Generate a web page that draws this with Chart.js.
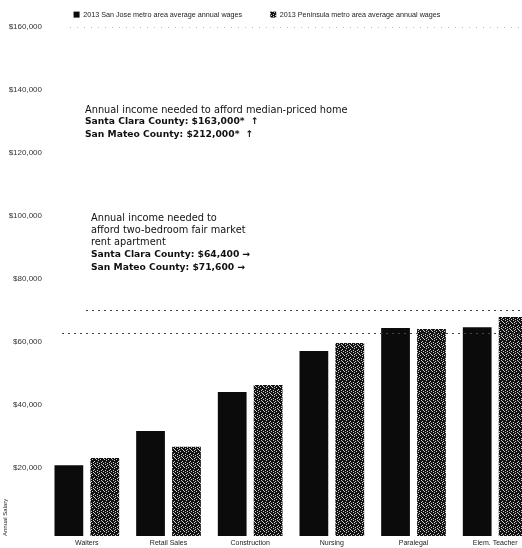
<!DOCTYPE html>
<html>
<head>
<meta charset="utf-8">
<script src="https://cdn.jsdelivr.net/npm/chart.js@4.4.0/dist/chart.umd.min.js"></script>
<style>
    html, body { margin: 0; padding: 0; background: #fff; overflow: hidden; }
    #wrap { width: 540px; height: 548px; }
</style>
</head>
<body>
<div id="wrap"><canvas id="barchart" width="540" height="548"></canvas></div>
<script>
const occupations = ['Waiters', 'Retail Sales', 'Construction', 'Nursing', 'Paralegal', 'Elem. Teacher'];
const sanJoseWages = [22500, 33300, 45700, 58700, 66000, 66300];
const peninsulaWages = [24800, 28300, 47900, 61300, 65700, 69500];
const seriesNames = [
    '2013 San Jose metro area average annual wages',
    '2013 Peninsula metro area average annual wages'
];
const yTicks = [20000, 40000, 60000, 80000, 100000, 120000, 140000, 160000];
const rentLines = [64400, 71600];

const homeNote = 'Annual income needed to afford median-priced home';
const homeCounties = ['Santa Clara County: $163,000*', 'San Mateo County: $212,000*'];
const rentNote = ['Annual income needed to', 'afford two-bedroom fair market', 'rent apartment'];
const rentCounties = ['Santa Clara County: $64,400', 'San Mateo County: $71,600'];

const FONT = "'Liberation Sans', Arial, sans-serif";
const NOTE_FONT = "'DejaVu Sans', Verdana, sans-serif";

function stipple() {
    const c = document.createElement('canvas');
    c.width = 8;
    c.height = 8;
    const g = c.getContext('2d');
    g.fillStyle = '#121212';
    g.fillRect(0, 0, 8, 8);
    g.fillStyle = '#cfcfcf';
    [[1, 0], [5, 0], [3, 1], [7, 2], [0, 3], [4, 3], [2, 4], [6, 5],
     [1, 6], [5, 6], [3, 7], [7, 7], [6, 1], [2, 2]].forEach(function(p) {
        g.fillRect(p[0], p[1], 1, 1);
    });
    return g.createPattern(c, 'repeat');
}

// legend box gets a fixed height so the plot top lands where the scan has it
const legendBox = {
    id: 'legendBox',
    beforeInit(chart) {
        const fit = chart.legend.fit;
        chart.legend.fit = function() {
            fit.bind(chart.legend)();
            this.height = 49;
        };
    },
    afterLayout(chart) {
        chart.legend.left -= 12;
        chart.legend.right -= 12;
    }
};

const notes = {
    id: 'notes',
    afterDraw(chart) {
        const ctx = chart.ctx;
        const area = chart.chartArea;
        const y = chart.scales.y;
        ctx.save();

        // separator under legend
        ctx.strokeStyle = '#bbb';
        ctx.lineWidth = 1;
        ctx.setLineDash([1, 6]);
        ctx.beginPath();
        ctx.moveTo(70, 27.5);
        ctx.lineTo(area.right, 27.5);
        ctx.stroke();

        // rent threshold lines
        ctx.strokeStyle = '#444';
        ctx.setLineDash([2, 4]);
        rentLines.forEach(function(v, i) {
            const py = Math.round(y.getPixelForValue(v)) + 0.5;
            ctx.beginPath();
            ctx.moveTo(area.left + (i === 0 ? 16 : 40), py);
            ctx.lineTo(area.right, py);
            ctx.stroke();
        });
        ctx.setLineDash([]);

        ctx.fillStyle = '#111';
        ctx.textBaseline = 'middle';
        ctx.textAlign = 'left';

        ctx.font = '9.8px ' + NOTE_FONT;
        ctx.fillText(homeNote, 85, 110);
        ctx.font = 'bold 9.2px ' + NOTE_FONT;
        homeCounties.forEach(function(t, i) {
            ctx.fillText(t + '  \u2191', 85, 122 + i * 12.5);
        });

        ctx.font = '9.8px ' + NOTE_FONT;
        rentNote.forEach(function(t, i) {
            ctx.fillText(t, 91, 218 + i * 12);
        });
        ctx.font = 'bold 9.2px ' + NOTE_FONT;
        rentCounties.forEach(function(t, i) {
            ctx.fillText(t + ' \u2192', 91, 255 + i * 13);
        });

        ctx.restore();
    }
};

const ctx = document.querySelector('#barchart').getContext('2d');

new Chart(ctx, {
    type: 'bar',
    data: {
        labels: occupations,
        datasets: [
            {
                label: seriesNames[0],
                data: sanJoseWages,
                backgroundColor: '#0b0b0b'
            },
            {
                label: seriesNames[1],
                data: peninsulaWages,
                backgroundColor: stipple()
            }
        ]
    },
    options: {
        responsive: false,
        animation: false,
        devicePixelRatio: 1,
        categoryPercentage: 0.88,
        barPercentage: 0.8,
        layout: {
            padding: { left: 2, right: 4, top: -17, bottom: 0 }
        },
        plugins: {
            legend: {
                display: true,
                position: 'top',
                labels: {
                    boxWidth: 6,
                    boxHeight: 6,
                    padding: 28,
                    color: '#222',
                    font: { family: FONT, size: 7.2 }
                }
            },
            tooltip: { enabled: false }
        },
        scales: {
            x: {
                grid: { display: false, drawTicks: false },
                border: { display: false },
                ticks: {
                    autoSkip: false,
                    maxRotation: 0,
                    padding: 3,
                    color: '#222',
                    font: { family: FONT, size: 7 }
                },
                afterFit: function(axis) {
                    axis.height = 12;
                }
            },
            y: {
                min: 0,
                max: 160000,
                grid: { display: false, drawTicks: false },
                border: { display: false },
                afterBuildTicks: function(axis) {
                    axis.ticks = yTicks.map(function(v) { return { value: v }; });
                },
                afterFit: function(axis) {
                    axis.width = 44;
                },
                ticks: {
                    crossAlign: 'near',
                    labelOffset: -5,
                    padding: 4,
                    color: '#333',
                    font: { family: FONT, size: 8 },
                    callback: function(v) {
                        return '$' + v.toLocaleString('en-US');
                    }
                },
                title: {
                    display: true,
                    text: 'Annual Salary',
                    align: 'start',
                    color: '#222',
                    padding: 0,
                    font: { family: FONT, size: 6 }
                }
            }
        }
    },
    plugins: [legendBox, notes]
});
</script>
</body>
</html>
